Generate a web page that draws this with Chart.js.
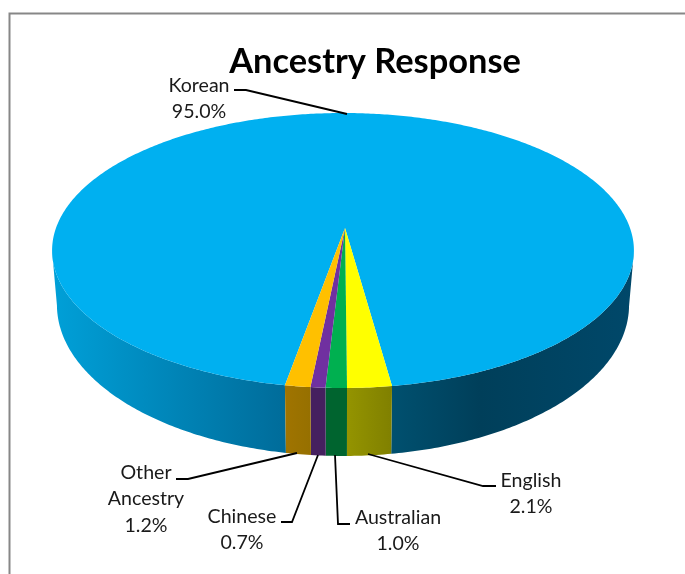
<!DOCTYPE html>
<html>
<head>
<meta charset="utf-8">
<style>html,body{margin:0;padding:0;background:#fff}canvas{display:block}</style>
<script src="https://cdn.jsdelivr.net/npm/chart.js@4"></script>
</head>
<body>
<canvas id="c" width="685" height="574"></canvas>
<script>
const categories = ['English', 'Australian', 'Chinese', 'Other Ancestry', 'Korean'];
const shares = [2.1, 1.0, 0.7, 1.2, 95.0];
const topColours = ['#FFFF00', '#00B050', '#7030A0', '#FFC000', '#00B0F0'];
const sideColours = [['#949400', '#808000'], ['#00642F', '#00642F'], ['#45205F', '#45205F'], ['#A07400', '#967000'], null];

// perspective of the tilted disc
const K = 0.1636;
const apex = { x: 345, y: 228 };
const topFace = { x: 343, y: 228, a: 287, b: 133.8 };
const baseFace = { x: 343, y: 280.2, a: 282.2, b: 147 };
const project = (f, ang) => {
  const u = Math.cos(ang), v = Math.sin(ang), w = 1 - K * v;
  return [f.x + f.a * u / w, f.y + f.b * v / w];
};

// label layout: text lines, anchor centre x, baselines, leader polyline
const labelLayout = [
  { i: 0, lines: ['English'], x: 531, y: 480.6, leader: [[496, 486], [483, 486], [368, 454]] },
  { i: 1, lines: ['Australian'], x: 398, y: 517.6, leader: [[350, 524], [338, 524], [335, 455]] },
  { i: 2, lines: ['Chinese'], x: 242, y: 516.6, leader: [[281, 522], [292, 522], [318, 455]] },
  { i: 3, lines: ['Other', 'Ancestry'], x: 146, y: 472.6, leader: [[176, 479], [188, 479], [297, 453]] },
  { i: 4, lines: ['Korean'], x: 199, y: 85.6, leader: [[234, 90], [246, 90], [347, 114]] }
];

const disc3d = {
  id: 'disc3d',
  beforeDraw(chart) {
    const c = chart.ctx;
    c.save();
    c.fillStyle = '#fff';
    c.fillRect(0, 0, 685, 574);
    c.strokeStyle = '#878787';
    c.lineWidth = 2;
    c.beginPath();
    c.moveTo(9.5, 574);
    c.lineTo(9.5, 13.5);
    c.lineTo(685, 13.5);
    c.stroke();
    c.restore();
  },
  beforeDatasetDraw(chart, args) {
    const c = chart.ctx;
    const arcs = chart.getDatasetMeta(args.index).data;
    const order = [4, 0, 1, 2, 3];
    const samples = (a) => {
      const n = Math.max(4, Math.ceil((a.endAngle - a.startAngle) * 90));
      const out = [];
      for (let k = 0; k <= n; k++) out.push(a.startAngle + (a.endAngle - a.startAngle) * k / n);
      return out;
    };
    c.save();
    const g = c.createLinearGradient(52, 0, 634, 0);
    g.addColorStop(0, '#00A0D8');
    g.addColorStop(0.40, '#006C9A');
    g.addColorStop(0.586, '#00506F');
    g.addColorStop(0.735, '#003F5A');
    g.addColorStop(1, '#00486A');
    const wall = (s, fill) => {
      c.beginPath();
      s.forEach((t, k) => { const p = project(topFace, t); k ? c.lineTo(p[0], p[1]) : c.moveTo(p[0], p[1]); });
      s.slice().reverse().forEach(t => { const p = project(baseFace, t); c.lineTo(p[0], p[1]); });
      c.closePath();
      c.fillStyle = fill;
      c.fill();
    };
    // side wall: only the part of each slice that faces the viewer
    order.forEach(i => {
      const a = arcs[i], s = samples(a);
      if (sideColours[i]) {
        const x0 = project(topFace, a.endAngle)[0], x1 = project(topFace, a.startAngle)[0];
        const sg = c.createLinearGradient(x0, 0, x1, 0);
        sg.addColorStop(0, sideColours[i][0]);
        sg.addColorStop(1, sideColours[i][1]);
        wall(s, sg);
      } else {
        let run = [];
        s.forEach(t => {
          if (Math.sin(t) >= K) run.push(t);
          else { if (run.length > 1) wall(run, g); run = []; }
        });
        if (run.length > 1) wall(run, g);
      }
    });
    // top face
    order.forEach(i => {
      const a = arcs[i], s = samples(a);
      c.beginPath();
      c.moveTo(apex.x, apex.y);
      s.forEach(t => { const p = project(topFace, t); c.lineTo(p[0], p[1]); });
      c.closePath();
      c.fillStyle = topColours[i];
      c.fill();
    });
    c.restore();
    return false;
  },
  afterDraw(chart) {
    const c = chart.ctx;
    c.save();
    c.strokeStyle = '#000';
    c.lineWidth = 1.8;
    c.fillStyle = '#1a1a1a';
    c.font = '19.6px Lato';
    c.textAlign = 'center';
    c.textBaseline = 'middle';
    labelLayout.forEach(l => {
      c.beginPath();
      l.leader.forEach((p, k) => k ? c.lineTo(p[0], p[1]) : c.moveTo(p[0], p[1]));
      c.stroke();
      const text = l.lines.concat(shares[l.i].toFixed(1) + '%');
      text.forEach((t, k) => c.fillText(t, l.x, l.y + k * 26.5));
    });
    c.restore();
  }
};

new Chart(document.getElementById('c'), {
  type: 'pie',
  data: {
    labels: categories,
    datasets: [{ data: shares, backgroundColor: topColours, borderWidth: 0 }]
  },
  options: {
    responsive: false,
    animation: false,
    rotation: 171.77,
    layout: { padding: { left: 65 } },
    plugins: {
      legend: { display: false },
      tooltip: { enabled: false },
      title: {
        display: true,
        text: 'Ancestry Response',
        color: '#000',
        font: { family: 'Lato', size: 34.4, weight: 'bold' },
        padding: { top: 41, bottom: 10 }
      }
    }
  },
  plugins: [disc3d]
});
</script>
</body>
</html>
